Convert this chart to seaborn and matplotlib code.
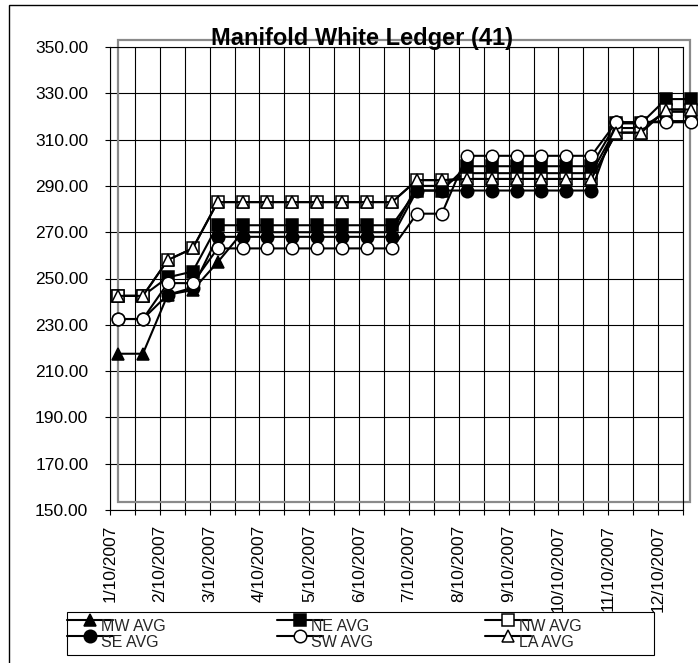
import numpy as np
import matplotlib
matplotlib.use('Agg')
import matplotlib.pyplot as plt
import seaborn as sns
from matplotlib.patches import Rectangle
from matplotlib.ticker import FormatStrFormatter

# ── Datos ─────────────────────────────────────────────────────────
month_labels = ['1/10/2007', '2/10/2007', '3/10/2007', '4/10/2007',
                '5/10/2007', '6/10/2007', '7/10/2007', '8/10/2007',
                '9/10/2007', '10/10/2007', '11/10/2007', '12/10/2007']

mw_avg = [217.5, 217.5, 243, 245, 257, 270, 270, 270, 270, 270, 270, 270,
          290, 290, 295.5, 295.5, 295.5, 295.5, 295.5, 295.5, 315, 315, 322, 322]
ne_avg = [242.5, 242.5, 250.5, 253, 273, 273, 273, 273, 273, 273, 273, 273,
          288, 288, 298.5, 298.5, 298.5, 298.5, 298.5, 298.5, 317, 317, 327.5, 327.5]
nw_avg = [242.5, 242.5, 258, 263, 283, 283, 283, 283, 283, 283, 283, 283,
          292.5, 292.5, 293, 293, 293, 293, 293, 293, 313, 313, 323, 323]
se_avg = [232.5, 232.5, 243, 246, 268, 268, 268, 268, 268, 268, 268, 268,
          288, 288, 288, 288, 288, 288, 288, 288, 317.5, 317.5, 318, 318]
sw_avg = [232.5, 232.5, 248, 248, 263, 263, 263, 263, 263, 263, 263, 263,
          278, 278, 303, 303, 303, 303, 303, 303, 317.5, 317.5, 317.5, 317.5]
la_avg = [242.5, 242.5, 258, 263, 283, 283, 283, 283, 283, 283, 283, 283,
          292.5, 292.5, 293, 293, 293, 293, 293, 293, 313, 313, 323, 323]

series = [
    ('MW AVG', mw_avg, '^', 'black'),
    ('NE AVG', ne_avg, 's', 'black'),
    ('NW AVG', nw_avg, 's', 'white'),
    ('SE AVG', se_avg, 'o', 'black'),
    ('SW AVG', sw_avg, 'o', 'white'),
    ('LA AVG', la_avg, '^', 'white'),
]

sns.set_theme(style='white')
plt.rcParams['font.family'] = ['Liberation Sans', 'DejaVu Sans']

W, H = 698, 663
fig = plt.figure(figsize=(W / 100, H / 100), dpi=100)
fig.patch.set_facecolor('white')


def px(x0, y0, x1, y1):
    return [x0 / W, 1 - y1 / H, (x1 - x0) / W, (y1 - y0) / H]


ax = fig.add_axes(px(110, 47, 683, 510))

n = len(mw_avg)
x = np.arange(n)
shift = 0.32   # los puntos quedan desplazados respecto a la rejilla

handles = {}
for name, vals, marker, face in series:
    sns.lineplot(x=x, y=vals, ax=ax, color='black', lw=1.5,
                 marker=marker, markersize=9, markerfacecolor=face,
                 markeredgecolor='black', markeredgewidth=1.1,
                 clip_on=False, zorder=3, legend=False)
    handles[name] = ax.lines[-1]

ax.set_xlim(-shift, n - 1 - shift)
ax.set_ylim(150, 350)
ax.set_xticks(x - shift)
ax.set_xticklabels(['' if i % 2 else month_labels[i // 2] for i in range(n)],
                   rotation=90)
ax.set_yticks(np.arange(150, 351, 20))
ax.yaxis.set_major_formatter(FormatStrFormatter('%.2f'))
ax.set_xlabel('')
ax.set_ylabel('')

ax.grid(True, color='black', lw=0.8)
ax.set_axisbelow(True)
ax.tick_params(axis='both', direction='out', length=3.6, width=0.8,
               color='black', labelsize=12.5, labelcolor='black',
               bottom=True, left=True)
ax.tick_params(axis='y', pad=12)
ax.tick_params(axis='x', pad=7)
for sp in ax.spines.values():
    sp.set_color('black')
    sp.set_linewidth(0.8)

# marco gris del área de trazado (desplazado, como en el original)
gx0, gy0, gx1, gy1 = 118, 40, 690, 502
ax.add_artist(Rectangle((gx0 / W, 1 - gy1 / H), (gx1 - gx0) / W, (gy1 - gy0) / H,
                        transform=fig.transFigure, fill=False,
                        edgecolor='#8a8a8a', lw=1.6, zorder=1, clip_on=False))

# marco exterior (sólo se ven los bordes izquierdo y superior)
fig.add_artist(Rectangle((9 / W, 1 - 680 / H), (720 - 9) / W, (680 - 5) / H,
                         transform=fig.transFigure, fill=False,
                         edgecolor='black', lw=1, zorder=0.5))

fig.text(362 / W, 1 - 45 / H, 'Manifold White Ledger (41)', ha='center',
         va='baseline', fontsize=17, fontweight='bold', color='black')

# ── Leyenda ───────────────────────────────────────────────────────
fig.add_artist(Rectangle((67 / W, 1 - 655 / H), (654 - 67) / W, (655 - 612) / H,
                         transform=fig.transFigure, facecolor='white',
                         edgecolor='black', lw=0.8, zorder=4))
order = ['MW AVG', 'SE AVG', 'NE AVG', 'SW AVG', 'NW AVG', 'LA AVG']
leg = fig.legend([handles[k] for k in order], order, ncol=3,
                 loc='upper left', bbox_to_anchor=(67 / W, 1 - 614 / H),
                 frameon=False, handlelength=2.9, handletextpad=0.0,
                 columnspacing=6.2, labelspacing=0.05, borderpad=0,
                 borderaxespad=0, fontsize=11.5)
leg.set_zorder(5)
for t in leg.get_texts():
    t.set_position((-12, -5))

fig.savefig('out.png', dpi=100)
